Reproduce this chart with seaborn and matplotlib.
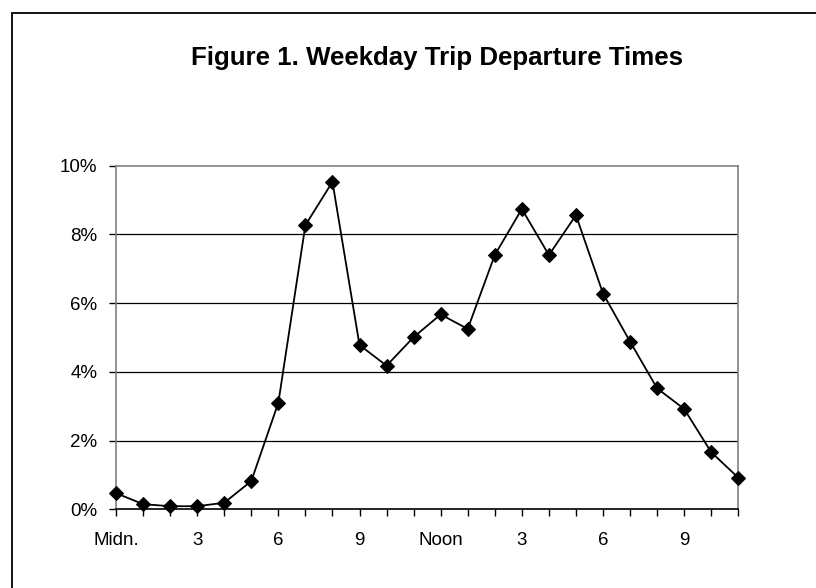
import matplotlib
matplotlib.use("Agg")
import matplotlib.pyplot as plt
import seaborn as sns
import pandas as pd
from matplotlib.patches import Rectangle

hours = list(range(24))
share_pct = [0.47, 0.15, 0.09, 0.09, 0.19, 0.82, 3.10, 8.27, 9.53, 4.78, 4.18, 5.01,
             5.67, 5.25, 7.40, 8.74, 7.40, 8.56, 6.28, 4.88, 3.52, 2.92, 1.66, 0.92]
tick_hours = [0, 3, 6, 9, 12, 15, 18, 21]
tick_labels = ["Midn.", "3", "6", "9", "Noon", "3", "6", "9"]
y_ticks = [0, 2, 4, 6, 8, 10]
y_labels = ["0%", "2%", "4%", "6%", "8%", "10%"]
title = "Figure 1. Weekday Trip Departure Times"

sns.set_style("white")
plt.rcParams['font.family'] = ['Liberation Sans', 'DejaVu Sans']
plt.rcParams['text.color'] = 'black'
plt.rcParams['xtick.color'] = 'black'
plt.rcParams['ytick.color'] = 'black'

df = pd.DataFrame({"hour": hours, "share": share_pct})

fig = plt.figure(figsize=(8.16, 5.88), dpi=100)
ax = fig.add_axes([116/816, 1-509.3/588, (738.3-116)/816, (509.3-165.7)/588])

# outer border (clipped on right and bottom as in the reference)
fig.patches.append(Rectangle((11.5/816, -0.1), 1.2, 1.1 - 13/588, transform=fig.transFigure,
                             fill=False, edgecolor="black", linewidth=1.3, zorder=0))

for yv in y_ticks[1:-1]:
    ax.axhline(yv, color="black", linewidth=0.9, zorder=1)

sns.lineplot(data=df, x="hour", y="share", ax=ax, color="black", linewidth=1.3,
             marker="D", markersize=7, markeredgecolor="black", markerfacecolor="black",
             zorder=3, clip_on=False)

ax.set_xlim(0, 23)
ax.set_ylim(0, 10)
ax.set_xticks(hours, minor=True)
ax.set_xticks(tick_hours)
ax.set_xticklabels(tick_labels, fontsize=13.5, color="black")
ax.set_yticks(y_ticks)
ax.set_yticklabels(y_labels, fontsize=13.5, color="black")
ax.tick_params(axis="x", which="both", direction="out", length=5, width=1, color="black",
               bottom=True, pad=11)
ax.tick_params(axis="y", which="major", direction="out", length=5, width=1, color="black",
               left=True, pad=8.5)
ax.set_xlabel("")
ax.set_ylabel("")

for side in ["left", "right", "top"]:
    ax.spines[side].set_visible(True)
    ax.spines[side].set_color("#808080")
    ax.spines[side].set_linewidth(1.2)
ax.spines["bottom"].set_color("black")
ax.spines["bottom"].set_linewidth(1.2)

fig.text(437/816, 1-58/588, title, ha="center", va="center", fontsize=18.6,
         fontweight="bold", color="black")

fig.savefig("out.png", dpi=100)
